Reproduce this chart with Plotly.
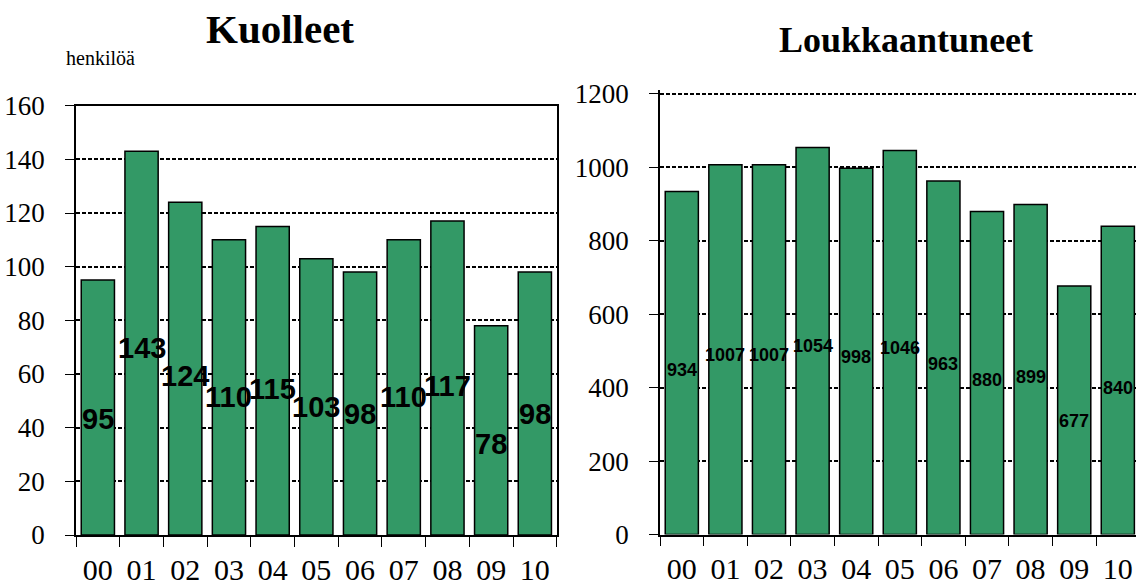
import plotly.graph_objects as go

years = ["00", "01", "02", "03", "04", "05", "06", "07", "08", "09", "10"]
deaths = [95, 143, 124, 110, 115, 103, 98, 110, 117, 78, 98]
injured = [934, 1007, 1007, 1054, 998, 1046, 963, 880, 899, 677, 840]
title_left = "Kuolleet"
title_right = "Loukkaantuneet"
unit_label = "henkilöä"

W, H = 1136, 587
GREEN = "#339966"
SERIF = "Liberation Serif"
SANS = "Liberation Sans"


def px_x(p):
    return p / W


def px_y(p):
    return 1 - p / H


fig = go.Figure()
fig.add_trace(go.Bar(x=years, y=deaths, xaxis="x", yaxis="y",
                     marker=dict(color=GREEN, line=dict(color="black", width=1.5)),
                     hoverinfo="x+y"))
fig.add_trace(go.Bar(x=years, y=injured, xaxis="x2", yaxis="y2",
                     marker=dict(color=GREEN, line=dict(color="black", width=1.5)),
                     hoverinfo="x+y"))

annotations = []
for yr, v in zip(years, deaths):
    annotations.append(dict(x=yr, y=0.551 * v - 9, xref="x", yref="y", text=str(v),
                            showarrow=False, xanchor="center", yanchor="middle",
                            font=dict(family=SANS, size=29, color="black", weight="bold")))
for yr, v in zip(years, injured):
    annotations.append(dict(x=yr, y=0.537 * v - 53, xref="x2", yref="y2", text=str(v),
                            showarrow=False, xanchor="center", yanchor="middle",
                            font=dict(family=SANS, size=18, color="black", weight="bold")))

annotations += [
    dict(x=px_x(280), y=px_y(29), xref="paper", yref="paper", text=title_left,
         showarrow=False, xanchor="center", yanchor="middle",
         font=dict(family=SERIF, size=41, color="black", weight="bold")),
    dict(x=px_x(906), y=px_y(40), xref="paper", yref="paper", text=title_right,
         showarrow=False, xanchor="center", yanchor="middle",
         font=dict(family=SERIF, size=36, color="black", weight="bold")),
    dict(x=px_x(100), y=px_y(58), xref="paper", yref="paper", text=unit_label,
         showarrow=False, xanchor="center", yanchor="middle",
         font=dict(family=SERIF, size=20, color="black")),
]

xcommon = dict(type="category", tickson="boundaries", ticks="outside", ticklen=10,
               tickwidth=1, tickcolor="black", showgrid=False, showline=True,
               linecolor="black", linewidth=1.8,
               tickfont=dict(family=SERIF, size=30, color="black"),
               ticklabelstandoff=7, fixedrange=True, automargin=False)
ycommon = dict(ticks="outside", ticklen=9, tickwidth=1, tickcolor="black",
               showgrid=True, gridcolor="black", gridwidth=1.8, griddash="4px,2px",
               showline=True, linecolor="black", linewidth=1.8, zeroline=False,
               tickfont=dict(family=SERIF, size=27, color="black"),
               ticklabelstandoff=15, fixedrange=True, automargin=False)

fig.update_layout(
    width=W, height=H,
    margin=dict(l=0, r=0, t=0, b=0, pad=0, autoexpand=False),
    paper_bgcolor="white", plot_bgcolor="white",
    showlegend=False, bargap=0.24,
    xaxis=dict(domain=[px_x(76), px_x(556.7)], anchor="y", mirror=True,
               range=[-0.5, 10.5], **xcommon),
    yaxis=dict(domain=[px_y(535), px_y(105.7)], anchor="x", range=[0, 160], dtick=20,
               mirror=True, **ycommon),
    xaxis2=dict(domain=[px_x(660), 1.0], anchor="y2", range=[-0.5, 10.417], **xcommon),
    yaxis2=dict(domain=[px_y(534.5), px_y(90.3)], anchor="x2", range=[0, 1210],
                tickvals=[0, 200, 400, 600, 800, 1000, 1200], **ycommon),
    annotations=annotations,
)

fig.write_html(
    "out.html",
    config={"displayModeBar": False},
    post_script="document.body.style.margin='0';document.body.style.overflow='hidden';",
)
